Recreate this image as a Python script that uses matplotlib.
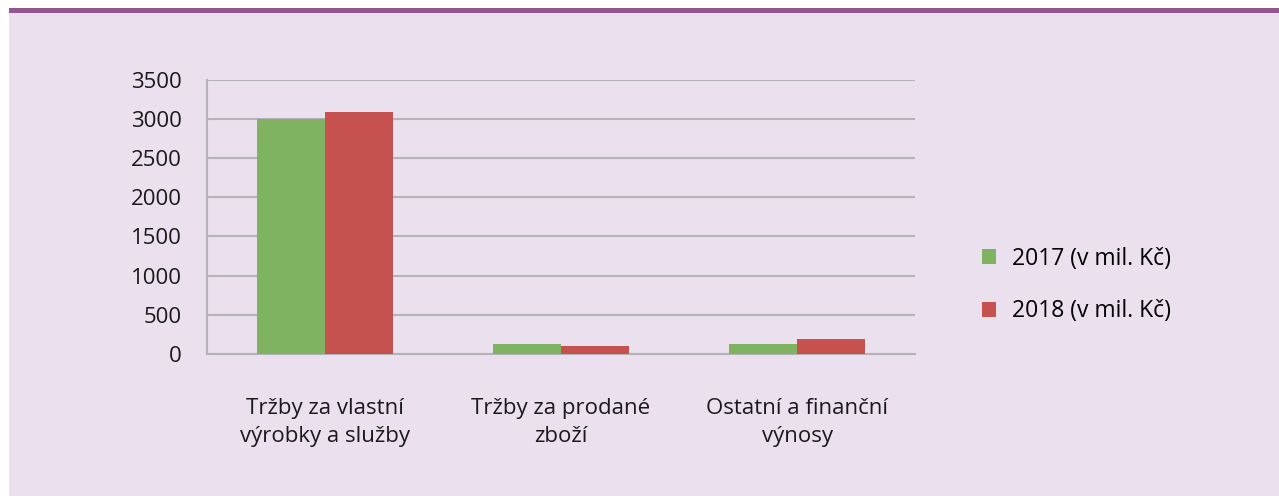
import matplotlib
matplotlib.use("Agg")
from matplotlib import pyplot as plt
from matplotlib.patches import Rectangle
import numpy as np

categories = ["Tržby za vlastní\nvýrobky a služby", "Tržby za prodané\nzboží", "Ostatní a finanční\nvýnosy"]
series_names = ["2017 (v mil. Kč)", "2018 (v mil. Kč)"]
values_2017 = [3000, 125, 125]
values_2018 = [3090, 100, 188]
yticks = [0, 500, 1000, 1500, 2000, 2500, 3000, 3500]

plt.rcParams['font.family'] = ['Open Sans', 'DejaVu Sans']

W, H = 1279, 496
fig = plt.figure(figsize=(W / 100, H / 100), dpi=100, facecolor="white")

# lavender panel with purple top strip
fig.add_artist(Rectangle((9 / W, 0), 1 - 9 / W, 1 - 13 / H, transform=fig.transFigure,
                         facecolor="#EAE0EE", edgecolor="none", zorder=-10))
fig.add_artist(Rectangle((9 / W, 1 - 13 / H), 1 - 9 / W, 5 / H, transform=fig.transFigure,
                         facecolor="#955590", edgecolor="none", zorder=-10))

ax = fig.add_axes([207 / W, 142.3 / H, 708 / W, 273.7 / H])
ax.set_facecolor("none")

x = np.arange(len(categories))
bw = 0.29
ax.bar(x - bw / 2, values_2017, bw, color="#7FB261", label=series_names[0], zorder=3)
ax.bar(x + bw / 2, values_2018, bw, color="#C5524F", label=series_names[1], zorder=3)

ax.set_xlim(-0.5, len(categories) - 0.5)
ax.set_ylim(0, 3500)
ax.set_yticks(yticks)
ax.set_yticklabels([str(v) for v in yticks])
ax.set_xticks(x)
ax.set_xticklabels(categories, linespacing=1.45)

ax.grid(axis="y", color="#B5B3B7", linewidth=1.5, zorder=1)
for s in ["top", "right"]:
    ax.spines[s].set_visible(False)
for s in ["left", "bottom"]:
    ax.spines[s].set_color("#B5B3B7")
    ax.spines[s].set_linewidth(1.5)
ax.tick_params(axis="y", length=0, pad=18, labelsize=16, labelcolor="#1a1a1a")
ax.tick_params(axis="x", length=0, pad=32, labelsize=16, labelcolor="#1a1a1a")

leg = fig.legend(loc="center left", bbox_to_anchor=(982 / W, 1 - 285 / H), frameon=False,
                 fontsize=16.5, handlelength=0.6, handleheight=0.6, borderpad=0,
                 borderaxespad=0, handletextpad=0.7, labelspacing=1.25)

fig.savefig("out.png", dpi=100, facecolor="white")
